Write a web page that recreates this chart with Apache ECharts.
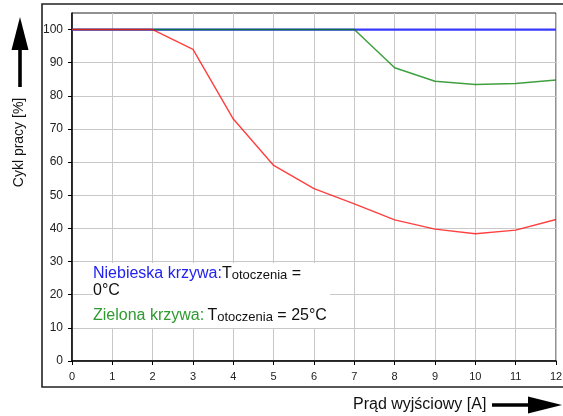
<!DOCTYPE html>
<html>
<head>
<meta charset="utf-8">
<script src="https://cdn.jsdelivr.net/npm/echarts@6/dist/echarts.min.js"></script>
<style>
html,body{margin:0;padding:0;background:#fff;}
#c{width:563px;height:416px;}
</style>
</head>
<body>
<div id="c"></div>
<script>
const current = [0,1,2,3,4,5,6,7,8,9,10,11,12];
const blueCurve = [100,100,100,100,100,100,100,100,100,100,100,100,100];
const greenCurve = [100,100,100,100,100,100,100,100,88.5,84.4,83.4,83.7,84.8];
const redCurve = [100,100,100,94,73,59,52,47.4,42.6,39.8,38.4,39.5,42.7];
const xTicks = [0,1,2,3,4,5,6,7,8,9,10,11,12];
const yTicks = [0,10,20,30,40,50,60,70,80,90,100];
const yAxisTitle = 'Cykl pracy [%]';
const xAxisTitle = 'Prąd wyjściowy [A]';

const pairs = ys => current.map((x, i) => [x, ys[i]]);
const FONT = 'Liberation Sans, Arial, sans-serif';

const chart = echarts.init(document.getElementById('c'), null, {renderer: 'canvas'});
chart.setOption({
  animation: false,
  backgroundColor: '#fff',
  grid: {left: 72, top: 13, right: 7, bottom: 55, outerBoundsMode: 'none', containLabel: false,
         show: true, borderColor: '#222', borderWidth: 1, backgroundColor: 'transparent'},
  xAxis: {
    type: 'value', min: 0, max: 12, interval: 1,
    axisLine: {show: true, onZero: false, lineStyle: {color: '#000', width: 1.5}},
    axisTick: {show: true, length: 4, inside: false, lineStyle: {color: '#000'}, customValues: xTicks},
    axisLabel: {color: '#222', fontSize: 11, fontFamily: FONT, margin: 10, customValues: xTicks},
    splitLine: {show: true, lineStyle: {color: '#c8c8c8', width: 1}}
  },
  yAxis: {
    type: 'value', min: 0, max: 105, interval: 10,
    axisLine: {show: true, onZero: false, lineStyle: {color: '#000', width: 1.5}},
    axisTick: {show: true, length: 4, inside: false, lineStyle: {color: '#000'}, customValues: yTicks},
    axisLabel: {color: '#222', fontSize: 12, fontFamily: FONT, margin: 9, customValues: yTicks},
    splitLine: {show: true, lineStyle: {color: '#c8c8c8', width: 1}}
  },
  series: [
    {type: 'line', data: pairs(blueCurve), symbol: 'none', z: 2,
     lineStyle: {color: '#3a3aff', width: 2.2}},
    {type: 'line', data: pairs(greenCurve), symbol: 'none', z: 3,
     lineStyle: {color: '#008000', width: 1.5, opacity: 0.75}},
    {type: 'line', data: pairs(redCurve), symbol: 'none', z: 4,
     lineStyle: {color: '#ff1010', width: 1.4, opacity: 0.8}}
  ],
  graphic: [
    {type: 'rect', shape: {x: 42, y: 4, width: 540, height: 383}, silent: true, z: 0,
     style: {fill: 'none', stroke: '#222', lineWidth: 1.6}},
    {type: 'rect', shape: {x: 93, y: 263, width: 237, height: 65}, silent: true, z: 10,
     style: {fill: '#fff'}},
    {type: 'text', x: 93, y: 265, z: 11, silent: true,
     style: {
       text: '{b|Niebieska krzywa:}{n|T}{s|otoczenia}{n| =}\n{n|0°C}',
       fontFamily: FONT,
       rich: {
         b: {fill: '#2222f0', fontSize: 16, fontFamily: FONT, lineHeight: 17},
         n: {fill: '#111', fontSize: 16, fontFamily: FONT, lineHeight: 17},
         s: {fill: '#111', fontSize: 13, fontFamily: FONT, lineHeight: 9, verticalAlign: 'bottom'}
       }
     }},
    {type: 'text', x: 93, y: 307, z: 11, silent: true,
     style: {
       text: '{g|Zielona krzywa:} {n|T}{s|otoczenia}{n| = 25°C}',
       fontFamily: FONT,
       rich: {
         g: {fill: '#2f9a2f', fontSize: 16, fontFamily: FONT, lineHeight: 17},
         n: {fill: '#111', fontSize: 16, fontFamily: FONT, lineHeight: 17},
         s: {fill: '#111', fontSize: 13, fontFamily: FONT, lineHeight: 9, verticalAlign: 'bottom'}
       }
     }},
    {type: 'text', x: 19.5, y: 142.5, rotation: Math.PI / 2, silent: true,
     style: {text: yAxisTitle, fill: '#111', fontSize: 14, fontFamily: FONT, align: 'center', verticalAlign: 'middle'}},
    {type: 'rect', shape: {x: 18.2, y: 48, width: 3.6, height: 39}, silent: true, style: {fill: '#000'}},
    {type: 'polygon', shape: {points: [[20, 17], [28.5, 50], [11.5, 50]]}, silent: true, style: {fill: '#000'}},
    {type: 'text', x: 353, y: 405, silent: true,
     style: {text: xAxisTitle, fill: '#111', fontSize: 16, fontFamily: FONT, align: 'left', verticalAlign: 'middle'}},
    {type: 'rect', shape: {x: 492, y: 403.2, width: 38, height: 3.6}, silent: true, style: {fill: '#000'}},
    {type: 'polygon', shape: {points: [[528, 396.5], [562, 405], [528, 413.5]]}, silent: true, style: {fill: '#000'}}
  ]
});
</script>
</body>
</html>
